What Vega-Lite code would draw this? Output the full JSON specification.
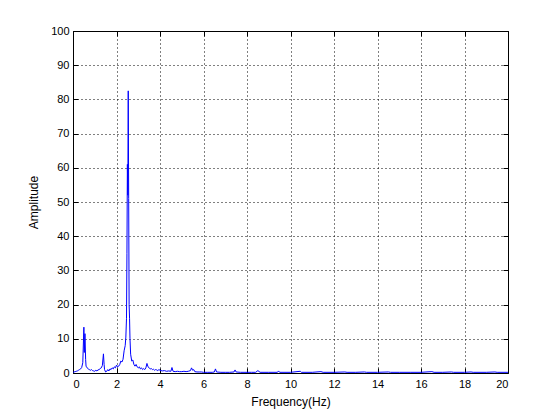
{
  "$schema": "https://vega.github.io/schema/vega-lite/v6.json",
  "width": 435,
  "height": 342,
  "autosize": "none",
  "padding": {"left": 73, "top": 31, "right": 52, "bottom": 47},
  "background": "white",
  "config": {
    "view": {"stroke": "black", "strokeWidth": 1},
    "font": "Liberation Sans",
    "axis": {
      "gridColor": "black",
      "gridDash": [1, 3],
      "gridOpacity": 1,
      "gridWidth": 1,
      "domain": false,
      "tickColor": "black",
      "tickSize": -5,
      "tickWidth": 1,
      "labelFont": "Liberation Sans",
      "labelFontSize": 11,
      "labelColor": "black",
      "titleFont": "Liberation Sans",
      "titleFontSize": 12,
      "titleFontWeight": "normal",
      "titleColor": "black"
    }
  },
  "data": {
    "values": [
      {"f": 0.0, "a": 0.2}, {"f": 0.05, "a": 0.3}, {"f": 0.1, "a": 0.4}, {"f": 0.15, "a": 0.5},
      {"f": 0.2, "a": 0.6}, {"f": 0.25, "a": 0.8}, {"f": 0.3, "a": 1.0}, {"f": 0.35, "a": 1.2},
      {"f": 0.4, "a": 1.6}, {"f": 0.45, "a": 3.0}, {"f": 0.5, "a": 13.4}, {"f": 0.52, "a": 6.0},
      {"f": 0.55, "a": 11.5}, {"f": 0.58, "a": 4.0}, {"f": 0.6, "a": 2.0}, {"f": 0.65, "a": 1.5},
      {"f": 0.7, "a": 1.2}, {"f": 0.75, "a": 1.0}, {"f": 0.8, "a": 0.8}, {"f": 0.85, "a": 1.0},
      {"f": 0.9, "a": 0.7}, {"f": 0.95, "a": 0.6}, {"f": 1.0, "a": 0.5}, {"f": 1.05, "a": 0.8},
      {"f": 1.1, "a": 0.6}, {"f": 1.15, "a": 0.9}, {"f": 1.2, "a": 1.0}, {"f": 1.25, "a": 1.3},
      {"f": 1.3, "a": 1.5}, {"f": 1.35, "a": 2.2}, {"f": 1.4, "a": 5.6}, {"f": 1.43, "a": 2.5},
      {"f": 1.45, "a": 1.0}, {"f": 1.5, "a": 0.3}, {"f": 1.55, "a": 0.5}, {"f": 1.6, "a": 1.0},
      {"f": 1.65, "a": 0.6}, {"f": 1.7, "a": 1.2}, {"f": 1.75, "a": 1.0}, {"f": 1.8, "a": 1.5},
      {"f": 1.85, "a": 1.2}, {"f": 1.9, "a": 1.8}, {"f": 1.95, "a": 1.5}, {"f": 2.0, "a": 2.3},
      {"f": 2.05, "a": 1.8}, {"f": 2.1, "a": 2.0}, {"f": 2.15, "a": 2.5}, {"f": 2.2, "a": 3.5},
      {"f": 2.25, "a": 3.2}, {"f": 2.3, "a": 4.0}, {"f": 2.35, "a": 6.5}, {"f": 2.4, "a": 8.0},
      {"f": 2.43, "a": 10.5}, {"f": 2.46, "a": 16.0}, {"f": 2.48, "a": 35.0}, {"f": 2.5, "a": 61.0},
      {"f": 2.52, "a": 52.0}, {"f": 2.54, "a": 82.5}, {"f": 2.56, "a": 51.0}, {"f": 2.58, "a": 20.0},
      {"f": 2.6, "a": 16.0}, {"f": 2.62, "a": 10.0}, {"f": 2.65, "a": 5.5}, {"f": 2.7, "a": 3.5},
      {"f": 2.75, "a": 3.8}, {"f": 2.8, "a": 2.5}, {"f": 2.85, "a": 2.0}, {"f": 2.9, "a": 2.5},
      {"f": 2.95, "a": 1.8}, {"f": 3.0, "a": 1.5}, {"f": 3.05, "a": 1.8}, {"f": 3.1, "a": 1.2},
      {"f": 3.15, "a": 1.5}, {"f": 3.2, "a": 1.0}, {"f": 3.25, "a": 1.3}, {"f": 3.3, "a": 1.0},
      {"f": 3.35, "a": 1.5}, {"f": 3.4, "a": 2.8}, {"f": 3.45, "a": 1.8}, {"f": 3.5, "a": 1.5},
      {"f": 3.55, "a": 1.2}, {"f": 3.6, "a": 1.3}, {"f": 3.65, "a": 1.0}, {"f": 3.7, "a": 1.1},
      {"f": 3.75, "a": 0.8}, {"f": 3.8, "a": 1.0}, {"f": 3.85, "a": 0.9}, {"f": 3.9, "a": 0.7},
      {"f": 3.95, "a": 1.0}, {"f": 4.0, "a": 0.8}, {"f": 4.1, "a": 0.6}, {"f": 4.2, "a": 0.7},
      {"f": 4.3, "a": 0.5}, {"f": 4.4, "a": 0.6}, {"f": 4.5, "a": 0.5}, {"f": 4.55, "a": 1.6},
      {"f": 4.6, "a": 0.5}, {"f": 4.7, "a": 0.4}, {"f": 4.8, "a": 0.5}, {"f": 4.9, "a": 0.4},
      {"f": 5.0, "a": 0.4}, {"f": 5.1, "a": 0.5}, {"f": 5.2, "a": 0.4}, {"f": 5.3, "a": 0.5},
      {"f": 5.4, "a": 0.7}, {"f": 5.45, "a": 1.5}, {"f": 5.5, "a": 0.8}, {"f": 5.55, "a": 1.0},
      {"f": 5.6, "a": 0.4}, {"f": 5.7, "a": 0.3}, {"f": 5.8, "a": 0.3}, {"f": 5.9, "a": 0.3},
      {"f": 6.0, "a": 0.2}, {"f": 6.2, "a": 0.2}, {"f": 6.4, "a": 0.2}, {"f": 6.5, "a": 0.3},
      {"f": 6.55, "a": 1.2}, {"f": 6.6, "a": 0.3}, {"f": 6.8, "a": 0.2}, {"f": 7.0, "a": 0.2},
      {"f": 7.2, "a": 0.2}, {"f": 7.4, "a": 0.3}, {"f": 7.45, "a": 0.9}, {"f": 7.5, "a": 0.3},
      {"f": 7.7, "a": 0.2}, {"f": 8.0, "a": 0.2}, {"f": 8.2, "a": 0.2}, {"f": 8.4, "a": 0.2},
      {"f": 8.5, "a": 0.7}, {"f": 8.6, "a": 0.2}, {"f": 9.0, "a": 0.2}, {"f": 9.4, "a": 0.2},
      {"f": 9.45, "a": 0.6}, {"f": 9.5, "a": 0.2}, {"f": 10.0, "a": 0.2}, {"f": 10.45, "a": 0.5},
      {"f": 10.5, "a": 0.2}, {"f": 11.0, "a": 0.2}, {"f": 11.4, "a": 0.4}, {"f": 11.5, "a": 0.2},
      {"f": 12.0, "a": 0.2}, {"f": 12.5, "a": 0.3}, {"f": 12.6, "a": 0.2}, {"f": 13.0, "a": 0.2},
      {"f": 13.4, "a": 0.3}, {"f": 13.5, "a": 0.2}, {"f": 14.0, "a": 0.2}, {"f": 14.5, "a": 0.3},
      {"f": 14.6, "a": 0.2}, {"f": 15.0, "a": 0.2}, {"f": 15.5, "a": 0.2}, {"f": 16.0, "a": 0.2},
      {"f": 16.5, "a": 0.4}, {"f": 16.6, "a": 0.2}, {"f": 17.0, "a": 0.2}, {"f": 17.4, "a": 0.3},
      {"f": 17.5, "a": 0.2}, {"f": 18.0, "a": 0.2}, {"f": 18.3, "a": 0.3}, {"f": 18.4, "a": 0.2},
      {"f": 19.0, "a": 0.2}, {"f": 19.4, "a": 0.3}, {"f": 19.5, "a": 0.2}, {"f": 20.0, "a": 0.2}
    ]
  },
  "layer": [
    {
      "mark": {"type": "line", "color": "#0000ff", "strokeWidth": 1, "clip": true},
      "encoding": {
        "x": {
          "field": "f", "type": "quantitative",
          "scale": {"domain": [0, 20], "nice": false, "zero": false},
          "axis": {"orient": "bottom", "values": [0,2,4,6,8,10,12,14,16,18,20], "title": "Frequency(Hz)", "labelPadding": 10, "titlePadding": 7, "grid": true}
        },
        "y": {
          "field": "a", "type": "quantitative",
          "scale": {"domain": [0, 100], "nice": false},
          "axis": {"orient": "left", "values": [0,10,20,30,40,50,60,70,80,90,100], "title": "Amplitude", "labelPadding": 9, "titlePadding": 10, "grid": true}
        }
      }
    },
    {
      "mark": {"type": "point", "opacity": 0},
      "encoding": {
        "x": {
          "field": "f", "type": "quantitative",
          "scale": {"domain": [0, 20], "nice": false, "zero": false},
          "axis": {"orient": "top", "values": [0,2,4,6,8,10,12,14,16,18,20], "labels": false, "title": null, "grid": false}
        },
        "y": {
          "field": "a", "type": "quantitative",
          "scale": {"domain": [0, 100], "nice": false},
          "axis": {"orient": "right", "values": [0,10,20,30,40,50,60,70,80,90,100], "labels": false, "title": null, "grid": false}
        }
      }
    }
  ],
  "resolve": {"axis": {"x": "independent", "y": "independent"}}
}
